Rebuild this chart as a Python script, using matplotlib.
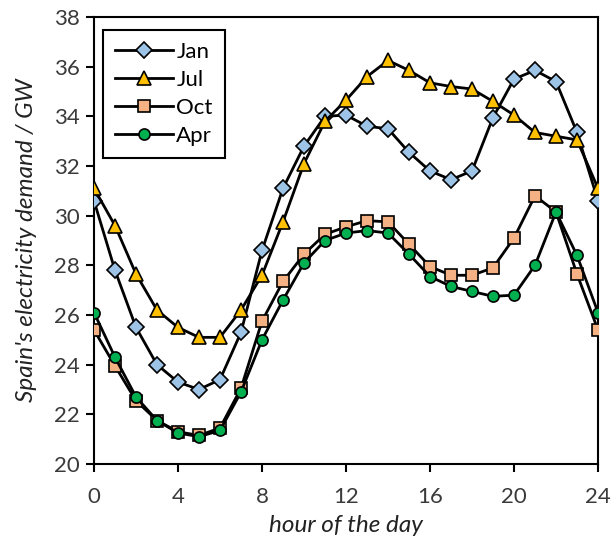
import matplotlib

matplotlib.use("Agg")

import matplotlib.pyplot as plt

# hourly demand profiles, GW (hour 0..24)
hours = list(range(25))
jan = [30.6, 27.8, 25.5, 24.0, 23.3, 23.0, 23.4, 25.3, 28.6, 31.1, 32.8, 34.0, 34.05,
       33.6, 33.5, 32.55, 31.8, 31.45, 31.8, 33.95, 35.5, 35.85, 35.4, 33.35, 30.6]
jul = [31.1, 29.6, 27.65, 26.2, 25.5, 25.1, 25.1, 26.2, 27.6, 29.75, 32.1, 33.8, 34.65,
       35.6, 36.25, 35.85, 35.35, 35.2, 35.1, 34.6, 34.05, 33.35, 33.2, 33.05, 31.1]
oct_ = [25.4, 23.95, 22.55, 21.75, 21.3, 21.15, 21.45, 23.05, 25.75, 27.35, 28.45, 29.25,
        29.55, 29.8, 29.75, 28.85, 27.95, 27.6, 27.6, 27.9, 29.1, 30.8, 30.15, 27.65, 25.4]
apr = [26.1, 24.3, 22.7, 21.75, 21.25, 21.1, 21.35, 22.9, 25.0, 26.6, 28.1, 29.0, 29.3,
       29.4, 29.3, 28.45, 27.55, 27.15, 26.95, 26.75, 26.8, 28.0, 30.15, 28.4, 26.1]

series = [
    ("Jan", jan, "D", 8, "#9dc3e6"),
    ("Jul", jul, "^", 10, "#ffc000"),
    ("Oct", oct_, "s", 8, "#f4b183"),
    ("Apr", apr, "o", 8, "#00b050"),
]

plt.rcParams["font.family"] = ["Lato", "DejaVu Sans"]

fig = plt.figure(figsize=(6.11, 5.39), dpi=100)
ax = fig.add_axes([94 / 611, 75 / 539, 504 / 611, 447 / 539])

for label, ys, marker, ms, color in series:
    ax.plot(hours, ys, color="black", linewidth=2, marker=marker, markersize=ms,
            markerfacecolor=color, markeredgecolor="black", markeredgewidth=1.2,
            label=label, zorder=3)

ax.set_xlim(0, 24)
ax.set_ylim(20, 38)
ax.set_xticks(range(0, 25, 4))
ax.set_yticks(range(20, 39, 2))
ax.tick_params(direction="out", length=5.5, width=1.5, labelsize=16, color="black",
               labelcolor="#3a3a3a")
ax.tick_params(axis="x", pad=11)
ax.tick_params(axis="y", pad=5)
for sp in ax.spines.values():
    sp.set_linewidth(1.5)

ax.set_xlabel("hour of the day", fontsize=17.5, style="italic", color="#222222",
              labelpad=6)
ax.set_ylabel("Spain's electricity demand / GW", fontsize=17.5, style="italic",
              color="#222222", labelpad=12)

leg = ax.legend(loc="upper left", bbox_to_anchor=(0.018, 0.971), borderaxespad=0,
                fontsize=16, fancybox=False, framealpha=1, edgecolor="black",
                handlelength=2.6, handletextpad=0.15, labelspacing=0.35, borderpad=0.55)
leg.get_frame().set_linewidth(1.5)

fig.savefig("out.png", dpi=100)
